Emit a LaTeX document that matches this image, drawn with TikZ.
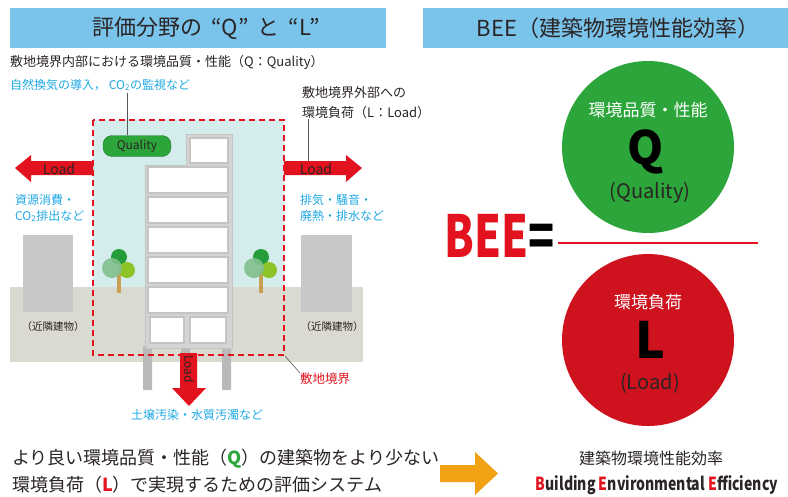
\documentclass[tikz,border=0pt]{standalone}
\usepackage{fontspec}
\setmainfont{Noto Sans CJK JP}
\usepackage{graphicx}
\usepackage{tikz}
\usetikzlibrary{positioning,arrows.meta,calc}
\definecolor{beeSky}{RGB}{122,196,236}
\definecolor{beeSite}{RGB}{212,236,236}
\definecolor{beeGround}{RGB}{219,218,208}
\definecolor{beeGray}{RGB}{200,200,200}
\definecolor{beeFrame}{RGB}{212,212,212}
\definecolor{beeEdge}{RGB}{196,196,196}
\definecolor{beeRed}{RGB}{226,18,30}
\definecolor{beeCircRed}{RGB}{206,18,30}
\definecolor{beeGreen}{RGB}{44,166,58}
\definecolor{beeCyan}{RGB}{30,168,228}
\definecolor{beeText}{RGB}{42,36,36}
\definecolor{beeOrange}{RGB}{242,160,20}
\definecolor{treeDark}{RGB}{36,156,56}
\definecolor{treePale}{RGB}{128,192,140}
\definecolor{treeLime}{RGB}{140,196,40}
\definecolor{treeTrunk}{RGB}{200,160,84}

\begin{document}
\begin{tikzpicture}[x=1pt,y=-1pt,
  bar/.style={fill=beeSky},
  note/.style={text=beeCyan, font=\fontsize{12}{16}\selectfont, anchor=west, inner sep=0pt, align=left},
  caption/.style={text=beeText, font=\fontsize{13}{20}\selectfont, anchor=west, inner sep=0pt, align=left},
  floor/.style={fill=white, draw=beeEdge, line width=1.2pt},
  lead/.style={draw=gray!70!black, line width=0.6pt},
  loadtxt/.style={text=beeText, font=\fontsize{14}{14}\selectfont, inner sep=0pt}]
  \useasboundingbox (0,0) rectangle (788,496);

  % Title bars
  \fill[bar] (10,8) rectangle (386,48);
  \fill[bar] (423,8) rectangle (788,48);
  \node[text=beeText, font=\fontsize{22}{22}\selectfont] (ttlA) at (206,28)
    {評価分野の\hspace{9pt}“Q”\hspace{9pt}と\hspace{9pt}“L”};
  \node[text=beeText, font=\fontsize{22}{22}\selectfont] (ttlB) at (618,28) {BEE（建築物環境性能効率）};

  % Captions above the site
  \node[caption] (qsub) at (10,62) {敷地境界内部における環境品質・性能（Q：Quality）};
  \node[note] (qnote) at (10,85) {自然換気の導入， CO\textsubscript{2}の監視など};
  \node[caption] (lsub) at (302,103) {敷地境界外部への\\環境負荷（L：Load）};

  % Site: sky inside the boundary, then ground
  \fill[beeSite] (93,120) rectangle (284,287);
  \fill[beeGround] (10,287) rectangle (363,362);

  % Neighbouring buildings
  \fill[beeGray] (23,235) rectangle (73,312);
  \fill[beeGray] (301,235) rectangle (352,312);
  \node[text=beeText, font=\fontsize{10.5}{10.5}\selectfont] (nbA) at (53,327) {（近隣建物）};
  \node[text=beeText, font=\fontsize{10.5}{10.5}\selectfont] (nbB) at (332,327) {（近隣建物）};

  % Trees
  \foreach \tx in {0,142} {
    \begin{scope}[xshift=\tx pt]
      \fill[treeTrunk] (117,272) rectangle (120.5,293);
      \fill[treeDark] (119,257) circle[radius=8];
      \fill[treeLime] (127,270) circle[radius=8];
      \fill[treePale, opacity=0.9] (112,268) circle[radius=10];
    \end{scope}
  }

  % Building frame, floors and legs
  \foreach \lx in {143,181,222}
    \fill[gray!55, rounded corners=1pt] (\lx,346) rectangle (\lx+9,390);
  \fill[beeFrame, draw=beeEdge] (145,165) -- (186,165) -- (186,134) -- (232,134) -- (232,348) -- (145,348) -- cycle;
  \draw[floor] (190,138) rectangle (228,163);
  \foreach \y in {167,197,227,257,287}
    \draw[floor] (148,\y) rectangle (228,\y+26);
  \draw[floor] (150,317) rectangle (184,343);
  \draw[floor] (190,317) rectangle (226,343);

  % Site boundary
  \draw[beeRed, line width=2.8pt, dash pattern=on 6pt off 4pt] (93,120) rectangle (284,355);

  % Quality tag
  \node[fill=beeGreen, draw=beeGreen!75!black, rounded corners=9pt, minimum width=68pt, minimum height=21pt,
    inner sep=0pt, text=beeText, font=\fontsize{12}{12}\selectfont] (qual) at (137,146) {Quality};
  \coordinate (qtop) at (127,93);
  \draw[lead] (qtop) -- (qtop |- qual.north);

  % Loads leaving the site
  \fill[beeRed] (93,161) -- (31,161) -- (31,155) -- (15,168) -- (31,182) -- (31,175) -- (93,175) -- cycle;
  \fill[beeRed] (284,161) -- (346,161) -- (346,155) -- (362,168) -- (346,182) -- (346,175) -- (284,175) -- cycle;
  \fill[beeRed] (180,353) -- (197,353) -- (197,388) -- (206,388) -- (189,406) -- (172,388) -- (180,388) -- cycle;
  \node[loadtxt] (ldA) at (59,169) {Load};
  \node[loadtxt] (ldB) at (316,169) {Load};
  \node[loadtxt, rotate=-90, font=\fontsize{12}{12}\selectfont] (ldC) at (189,369) {Load};
  \coordinate (lfoot) at (308,161);
  \draw[lead] (lfoot |- lsub.south) -- (lfoot);

  \node[note] (ldAnote) at (15,208) {資源消費・\\CO\textsubscript{2}排出など};
  \node[note] (ldBnote) at (300,208) {排気・騒音・\\廃熱・排水など};
  \node[note, anchor=center] (ldCnote) at (197,415) {土壌汚染・水質汚濁など};

  % Boundary label
  \coordinate (bcorner) at (285,356);
  \node[anchor=west, inner sep=0pt, text=beeRed, font=\fontsize{12.5}{12.5}\selectfont] (blabel) at (300,379) {敷地境界};
  \draw[lead] (bcorner) -- (blabel.north west);

  % BEE = Q / L
  \fill[beeGreen] (648,147) circle[radius=86];
  \node[text=white, font=\fontsize{17}{17}\selectfont] (qjp) at (648,110) {環境品質・性能};
  \node[text=black, font=\fontsize{46}{46}\selectfont\bfseries] (qbig) at (646,152) {Q};
  \node[text=beeText, font=\fontsize{20}{20}\selectfont] (qen) at (650,193) {(Quality)};

  \node[anchor=base west, inner sep=0pt, font=\fontsize{58}{58}\selectfont\bfseries] (bee) at (444,257)
    {\scalebox{0.74}[1]{\textcolor{beeRed}{BEE}=}};
  \coordinate (fracR) at (758,243);
  \draw[beeRed, line width=2pt] ([xshift=4pt]bee.east |- fracR) -- (fracR);

  \fill[beeCircRed] (648,340) circle[radius=86];
  \node[text=white, font=\fontsize{17}{17}\selectfont] (ljp) at (648,302) {環境負荷};
  \node[text=black, font=\fontsize{50}{50}\selectfont\bfseries] (lbig) at (650,340) {L};
  \node[text=beeText, font=\fontsize{20}{20}\selectfont] (len) at (650,383) {(Load)};

  % Summary
  \node[anchor=west, align=left, inner sep=0pt, text=beeText, font=\fontsize{18}{27}\selectfont] (sumtxt) at (12,471)
    {より良い環境品質・性能（\textcolor{beeGreen}{\textbf{Q}}）の建築物をより少ない\\環境負荷（\textcolor{beeRed}{\textbf{L}}）で実現するための評価システム};
  \fill[beeOrange] (440,465) -- (475,465) -- (475,452) -- (498,473.5) -- (475,495) -- (475,482) -- (440,482) -- cycle;
  \node[text=beeText, font=\fontsize{16}{16}\selectfont] (beejp) at (651,458) {建築物環境性能効率};
  \node[text=beeText, font=\fontsize{18}{18}\selectfont\bfseries] (beeen) at (657,485)
    {\scalebox{0.78}[1]{\textcolor{beeRed}{B}uilding \textcolor{beeRed}{E}nvironmental \textcolor{beeRed}{E}fficiency}};
\end{tikzpicture}
\end{document}
